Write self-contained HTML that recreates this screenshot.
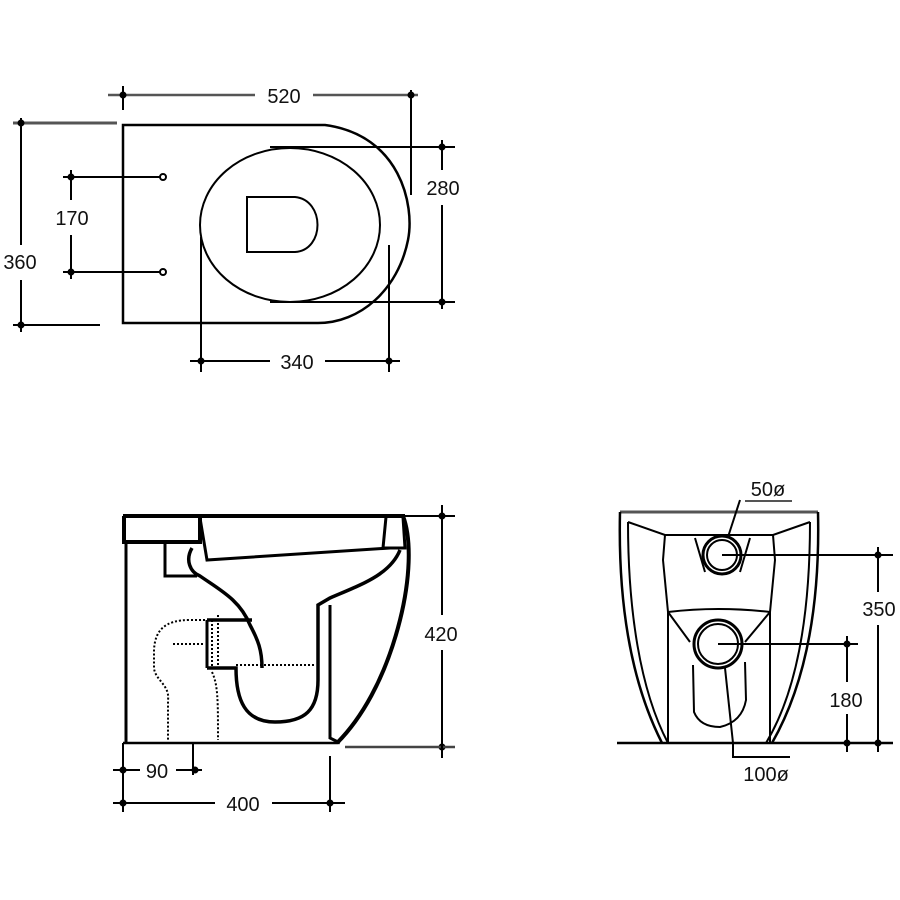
<!DOCTYPE html>
<html><head><style>html,body{margin:0;padding:0;background:#fff}svg{display:block}text{font-family:"Liberation Sans",sans-serif;font-size:20px;fill:#111;stroke:none;text-anchor:middle}</style></head><body>
<svg width="900" height="900" viewBox="0 0 900 900" fill="none" stroke="#000" stroke-width="2">
<!-- TOP VIEW -->
<path d="M123,125 H325 C400,135 415,205 408,240 C398,290 360,323 318,323 H123 Z" stroke-width="2.5"/>
<ellipse cx="290" cy="225" rx="90" ry="77"/>
<path d="M247,197 H295 C325,200 325,250 295,252 H247 Z"/>
<circle cx="163" cy="177" r="3"/><circle cx="163" cy="272" r="3"/>
<line x1="108" y1="95" x2="255" y2="95" stroke="#555" stroke-width="2.5"/>
<line x1="313" y1="95" x2="418" y2="95" stroke="#555" stroke-width="2.5"/>
<line x1="123" y1="86" x2="123" y2="110"/>
<line x1="411" y1="90" x2="411" y2="195"/>
<text x="284" y="103">520</text>
<line x1="13" y1="123" x2="117" y2="123" stroke="#555" stroke-width="3"/>
<line x1="13" y1="325" x2="100" y2="325"/>
<line x1="21" y1="118" x2="21" y2="245"/><line x1="21" y1="280" x2="21" y2="332"/>
<text x="20" y="269">360</text>
<line x1="63" y1="177" x2="160" y2="177"/><line x1="63" y1="272" x2="160" y2="272"/>
<line x1="71" y1="170" x2="71" y2="200"/><line x1="71" y1="235" x2="71" y2="279"/>
<text x="72" y="225">170</text>
<line x1="270" y1="147" x2="455" y2="147"/><line x1="270" y1="302" x2="455" y2="302"/>
<line x1="442" y1="140" x2="442" y2="170"/><line x1="442" y1="205" x2="442" y2="309"/>
<text x="443" y="195">280</text>
<line x1="201" y1="237" x2="201" y2="372"/><line x1="389" y1="245" x2="389" y2="372"/>
<line x1="190" y1="361" x2="270" y2="361"/><line x1="325" y1="361" x2="400" y2="361"/>
<text x="297" y="369">340</text>
<g fill="#000" stroke="none">
<circle cx="123" cy="95" r="3.5"/><circle cx="411" cy="95" r="3.5"/><circle cx="21" cy="123" r="3.5"/><circle cx="21" cy="325" r="3.5"/>
<circle cx="71" cy="177" r="3.5"/><circle cx="71" cy="272" r="3.5"/><circle cx="442" cy="147" r="3.5"/><circle cx="442" cy="302" r="3.5"/>
<circle cx="201" cy="361" r="3.5"/><circle cx="389" cy="361" r="3.5"/>
<circle cx="442" cy="516" r="3.5"/><circle cx="442" cy="747" r="3.5"/><circle cx="123" cy="770" r="3.5"/><circle cx="195" cy="770" r="3.5"/>
<circle cx="123" cy="803" r="3.5"/><circle cx="330" cy="803" r="3.5"/>
<circle cx="878" cy="555" r="3.5"/><circle cx="878" cy="743" r="3.5"/><circle cx="847" cy="644" r="3.5"/><circle cx="847" cy="743" r="3.5"/>
</g>
<!-- SIDE VIEW -->
<line x1="123" y1="516" x2="405" y2="516" stroke-width="4"/>
<path d="M124,516 V542 H200 V516" stroke-width="4"/>
<line x1="126" y1="542" x2="126" y2="743" stroke-width="3"/>
<line x1="123" y1="743" x2="338" y2="743" stroke-width="2.5"/>
<path d="M165,542 V576 H197" stroke-width="3"/>
<path d="M200,518 L207,560 L390,548" stroke-width="3"/>
<path d="M386,517 L383,548 H405 L403,517" stroke-width="3"/>
<path d="M192,548 C185,560 190,572 200,576 C220,590 240,600 250,625 C258,640 262,650 262,668" stroke-width="3.5"/>
<path d="M207,668 H236 C236,700 245,722 275,722 C305,722 318,710 318,680 V605 L330,598 C360,585 390,575 400,550" stroke-width="3.5"/>
<path d="M330,605 V738 L340,743" stroke-width="3"/>
<path d="M403,516 C412,540 410,580 400,620 C385,680 360,720 337,743" stroke-width="4"/>
<path d="M207,620 H252" stroke-width="3.5"/>
<path d="M207,620 V668" stroke-width="3"/>
<g stroke-dasharray="2,2" stroke-width="2">
<line x1="236" y1="665" x2="315" y2="665"/>
<line x1="173" y1="644" x2="205" y2="644"/>
<path d="M212,620 V668 M218,615 V668 M212,672 C218,685 218,700 218,740"/>
<path d="M205,620 H190 C165,620 155,630 154,650 V668 C155,680 170,685 168,700 V740"/>
</g>
<line x1="403" y1="516" x2="455" y2="516"/>
<line x1="345" y1="747" x2="455" y2="747" stroke="#444" stroke-width="2.5"/>
<line x1="442" y1="505" x2="442" y2="615"/><line x1="442" y1="650" x2="442" y2="758"/>
<text x="441" y="641">420</text>
<line x1="123" y1="743" x2="123" y2="812"/>
<line x1="193" y1="743" x2="193" y2="775"/>
<line x1="330" y1="756" x2="330" y2="812"/>
<line x1="113" y1="770" x2="140" y2="770"/><line x1="176" y1="770" x2="202" y2="770"/>
<text x="157" y="778">90</text>
<line x1="113" y1="803" x2="215" y2="803"/><line x1="272" y1="803" x2="345" y2="803"/>
<text x="243" y="811">400</text>
<!-- FRONT VIEW -->
<line x1="617" y1="743" x2="893" y2="743" stroke-width="2.5"/>
<line x1="620" y1="512" x2="818" y2="512" stroke="#555" stroke-width="3"/>
<path d="M620,512 C618,600 630,680 662,743" stroke-width="2.5"/>
<path d="M628,522 C628,610 640,690 668,743" stroke-width="2"/>
<path d="M818,512 C820,600 808,680 772,743" stroke-width="2.5"/>
<path d="M810,522 C810,610 798,690 766,743" stroke-width="2"/>
<path d="M628,522 L665,535 H773 L810,522"/>
<path d="M665,535 L663,560 L668,612 V743"/>
<path d="M773,535 L775,560 L770,612 V743"/>
<circle cx="722" cy="555" r="19" stroke-width="3"/><circle cx="722" cy="555" r="15"/>
<path d="M695,538 L705,572 M750,538 L740,572"/>
<path d="M668,612 Q718,606 770,612"/>
<path d="M668,612 L690,642 M770,612 L745,642"/>
<circle cx="718" cy="644" r="24" stroke-width="3"/><circle cx="718" cy="644" r="20"/>
<path d="M693,665 L694,712 Q700,727 720,727 Q742,722 746,700 L745,662"/>
<path d="M725,668 L733,743 V757 H790"/>
<text x="766" y="781">100ø</text>
<path d="M740,500 L728,537"/><line x1="745" y1="501" x2="792" y2="501" stroke="#555" stroke-width="2"/>
<text x="768" y="496">50ø</text>
<line x1="722" y1="555" x2="893" y2="555"/>
<line x1="878" y1="547" x2="878" y2="592"/><line x1="878" y1="625" x2="878" y2="752"/>
<text x="879" y="616">350</text>
<line x1="718" y1="644" x2="858" y2="644"/>
<line x1="847" y1="636" x2="847" y2="682"/><line x1="847" y1="714" x2="847" y2="752"/>
<text x="846" y="707">180</text>
</svg>
</body></html>
